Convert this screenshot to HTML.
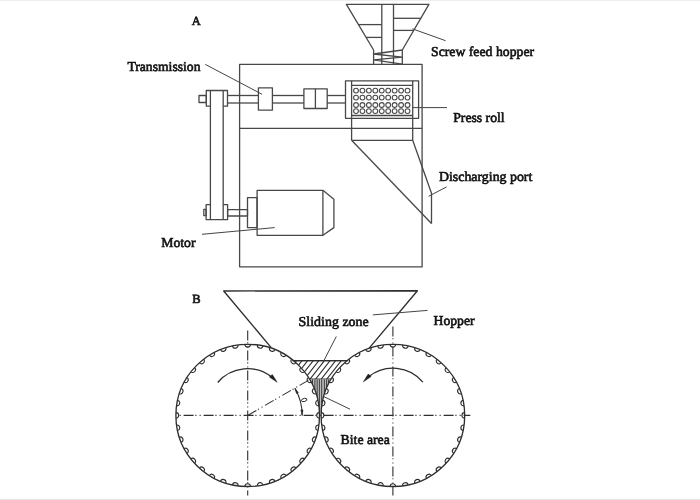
<!DOCTYPE html>
<html><head><meta charset="utf-8"><style>
html,body{margin:0;padding:0;background:#fff;}
body{width:700px;height:500px;overflow:hidden;position:relative;}
svg{position:absolute;left:0;top:0;}
text{font-family:"Liberation Serif",serif;font-weight:normal;fill:#111;stroke:#111;stroke-width:0.6px;text-rendering:geometricPrecision;}
</style></head><body>
<svg style="filter:grayscale(1)" width="700" height="500" viewBox="0 0 700 500">
<rect x="0" y="0" width="700" height="500" fill="#fff"/>
<rect x="0" y="0" width="700" height="1" fill="#eeeeee"/>
<rect x="0" y="499" width="700" height="1" fill="#e4e4e4"/>
<g fill="none" stroke="#484848" stroke-width="1.3" stroke-linejoin="round">
<path d="M373.60 50.00 L346.40 4.30 L428.90 4.30 L402.30 50.00" />
<line x1="373.6" y1="50" x2="373.6" y2="64.3" />
<line x1="402.3" y1="50" x2="402.3" y2="64.3" />
<line x1="381.8" y1="4.3" x2="381.8" y2="64.3" />
<line x1="393.5" y1="4.3" x2="393.5" y2="64.3" />
<line x1="358.5" y1="24.6" x2="381.8" y2="24.6" />
<line x1="366.1" y1="37.4" x2="381.8" y2="37.4" />
<line x1="393.5" y1="18.3" x2="420.7" y2="18.3" />
<line x1="393.5" y1="30.4" x2="413.6" y2="30.4" />
<path d="M402.30 50.00 L373.60 54.00 L402.30 57.10 L373.60 59.90 L402.30 64.10" />
<rect x="239.6" y="64.3" width="182.50" height="202.50" />
<line x1="239.6" y1="128.3" x2="422.1" y2="128.3" />
<line x1="210.4" y1="90.5" x2="210.4" y2="219.6" />
<line x1="223.2" y1="90.5" x2="223.2" y2="219.6" />
<path d="M210.40 106.20 L206.30 106.20 L206.30 90.50 L227.50 90.50 L227.50 106.20 L223.20 106.20" />
<rect x="199" y="95.5" width="7.30" height="7.00" />
<path d="M210.40 204.60 L206.10 204.60 L206.10 219.60 L227.60 219.60 L227.60 204.60 L223.20 204.60" />
<rect x="203.8" y="209.4" width="2.30" height="6.20" />
<line x1="227.5" y1="95.5" x2="258.4" y2="95.5" />
<line x1="272.4" y1="95.5" x2="303.9" y2="95.5" />
<line x1="327.2" y1="95.5" x2="345.5" y2="95.5" />
<line x1="227.5" y1="103.0" x2="258.4" y2="103.0" />
<line x1="272.4" y1="103.0" x2="303.9" y2="103.0" />
<line x1="327.2" y1="103.0" x2="345.5" y2="103.0" />
<rect x="258.4" y="87.9" width="14.00" height="22.20" />
<rect x="303.9" y="88.8" width="23.30" height="19.70" />
<line x1="315.4" y1="88.8" x2="315.4" y2="108.5" />
<rect x="227.6" y="209.6" width="19.90" height="6.40" />
<rect x="247.5" y="197.6" width="9.60" height="30.00" />
<rect x="257.1" y="190.3" width="65.80" height="45.00" />
<path d="M322.90 190.30 L333.90 199.30 L333.90 227.60 L322.90 235.30" />
<rect x="345.5" y="80.8" width="73.10" height="37.50" />
<line x1="351.6" y1="80.8" x2="351.6" y2="140.3" />
<line x1="412.7" y1="80.8" x2="412.7" y2="140.3" />
<line x1="351.6" y1="85.3" x2="412.7" y2="85.3" />
<line x1="351.6" y1="115.5" x2="412.7" y2="115.5" />
<circle cx="356.00" cy="90.6" r="2.4" stroke-width="1.1"/>
<circle cx="356.00" cy="97.6" r="2.4" stroke-width="1.1"/>
<circle cx="356.00" cy="105.0" r="2.4" stroke-width="1.1"/>
<circle cx="356.00" cy="111.1" r="2.4" stroke-width="1.1"/>
<circle cx="362.44" cy="90.6" r="2.4" stroke-width="1.1"/>
<circle cx="362.44" cy="97.6" r="2.4" stroke-width="1.1"/>
<circle cx="362.44" cy="105.0" r="2.4" stroke-width="1.1"/>
<circle cx="362.44" cy="111.1" r="2.4" stroke-width="1.1"/>
<circle cx="368.88" cy="90.6" r="2.4" stroke-width="1.1"/>
<circle cx="368.88" cy="97.6" r="2.4" stroke-width="1.1"/>
<circle cx="368.88" cy="105.0" r="2.4" stroke-width="1.1"/>
<circle cx="368.88" cy="111.1" r="2.4" stroke-width="1.1"/>
<circle cx="375.32" cy="90.6" r="2.4" stroke-width="1.1"/>
<circle cx="375.32" cy="97.6" r="2.4" stroke-width="1.1"/>
<circle cx="375.32" cy="105.0" r="2.4" stroke-width="1.1"/>
<circle cx="375.32" cy="111.1" r="2.4" stroke-width="1.1"/>
<circle cx="381.76" cy="90.6" r="2.4" stroke-width="1.1"/>
<circle cx="381.76" cy="97.6" r="2.4" stroke-width="1.1"/>
<circle cx="381.76" cy="105.0" r="2.4" stroke-width="1.1"/>
<circle cx="381.76" cy="111.1" r="2.4" stroke-width="1.1"/>
<circle cx="388.20" cy="90.6" r="2.4" stroke-width="1.1"/>
<circle cx="388.20" cy="97.6" r="2.4" stroke-width="1.1"/>
<circle cx="388.20" cy="105.0" r="2.4" stroke-width="1.1"/>
<circle cx="388.20" cy="111.1" r="2.4" stroke-width="1.1"/>
<circle cx="394.64" cy="90.6" r="2.4" stroke-width="1.1"/>
<circle cx="394.64" cy="97.6" r="2.4" stroke-width="1.1"/>
<circle cx="394.64" cy="105.0" r="2.4" stroke-width="1.1"/>
<circle cx="394.64" cy="111.1" r="2.4" stroke-width="1.1"/>
<circle cx="401.08" cy="90.6" r="2.4" stroke-width="1.1"/>
<circle cx="401.08" cy="97.6" r="2.4" stroke-width="1.1"/>
<circle cx="401.08" cy="105.0" r="2.4" stroke-width="1.1"/>
<circle cx="401.08" cy="111.1" r="2.4" stroke-width="1.1"/>
<circle cx="407.52" cy="90.6" r="2.4" stroke-width="1.1"/>
<circle cx="407.52" cy="97.6" r="2.4" stroke-width="1.1"/>
<circle cx="407.52" cy="105.0" r="2.4" stroke-width="1.1"/>
<circle cx="407.52" cy="111.1" r="2.4" stroke-width="1.1"/>
<line x1="351.6" y1="140.3" x2="412.7" y2="140.3" />
<line x1="351.6" y1="140.3" x2="431.5" y2="223.5" />
<path d="M412.70 140.30 L431.50 193.20 L431.50 223.50" />
<line x1="412.4" y1="28.8" x2="445.6" y2="40.7" stroke="#444" stroke-width="1"/>
<line x1="205.3" y1="64.4" x2="262.1" y2="94.3" stroke="#444" stroke-width="1"/>
<line x1="412.7" y1="107.6" x2="447" y2="107.6" stroke="#444" stroke-width="1"/>
<line x1="428.6" y1="196.3" x2="446.6" y2="186.9" stroke="#444" stroke-width="1"/>
<line x1="202" y1="234.3" x2="274.7" y2="227.6" stroke="#444" stroke-width="1"/>
</g><g fill="none" stroke="#2e2e2e" stroke-width="1.35" stroke-linejoin="round">
<path d="M271.20 347.60 L223.70 291.00 L417.40 290.70 L368.80 348.60" />
<clipPath id="sz"><path d="M293.45 360.60 L295.63 362.46 L297.64 364.32 L299.51 366.18 L301.25 368.04 L302.87 369.90 L304.38 371.76 L305.80 373.62 L307.11 375.48 L308.35 377.34 L309.50 379.20 L331.10 379.20 L332.25 377.34 L333.49 375.48 L334.80 373.62 L336.22 371.76 L337.73 369.90 L339.35 368.04 L341.09 366.18 L342.96 364.32 L344.97 362.46 L347.15 360.60 Z"/></clipPath>
<path d="M270.84 357.6 L251.62 382.2 M276.44 357.6 L257.22 382.2 M282.04 357.6 L262.82 382.2 M287.64 357.6 L268.42 382.2 M293.24 357.6 L274.02 382.2 M298.84 357.6 L279.62 382.2 M304.44 357.6 L285.22 382.2 M310.04 357.6 L290.82 382.2 M315.64 357.6 L296.42 382.2 M321.24 357.6 L302.02 382.2 M326.84 357.6 L307.62 382.2 M332.44 357.6 L313.22 382.2 M338.04 357.6 L318.82 382.2 M343.64 357.6 L324.42 382.2 M349.24 357.6 L330.02 382.2 M354.84 357.6 L335.62 382.2 M360.44 357.6 L341.22 382.2 M366.04 357.6 L346.82 382.2 M371.64 357.6 L352.42 382.2 M377.24 357.6 L358.02 382.2 " clip-path="url(#sz)" stroke-width="1.1"/>
<line x1="292.4468832481099" y1="360.6" x2="348.1531167518901" y2="360.6" />
<line x1="309.497003650439" y1="379.2" x2="331.10299634956095" y2="379.2" />
<path d="M309.50 379.20 L311.09 382.02 L312.53 384.83 L313.81 387.65 L314.94 390.47 L315.94 393.28 L316.80 396.10 L317.54 398.92 L318.16 401.73 L318.66 404.55 L319.04 407.37 L319.31 410.18 L319.46 413.00 L321.14 413.00 L321.29 410.18 L321.56 407.37 L321.94 404.55 L322.44 401.73 L323.06 398.92 L323.80 396.10 L324.66 393.28 L325.66 390.47 L326.79 387.65 L328.07 384.83 L329.51 382.02 L331.10 379.20 Z" fill="#bdbdbd" stroke="none"/>
<clipPath id="ba"><path d="M309.50 379.20 L311.09 382.02 L312.53 384.83 L313.81 387.65 L314.94 390.47 L315.94 393.28 L316.80 396.10 L317.54 398.92 L318.16 401.73 L318.66 404.55 L319.04 407.37 L319.31 410.18 L319.46 413.00 L321.14 413.00 L321.29 410.18 L321.56 407.37 L321.94 404.55 L322.44 401.73 L323.06 398.92 L323.80 396.10 L324.66 393.28 L325.66 390.47 L326.79 387.65 L328.07 384.83 L329.51 382.02 L331.10 379.20 Z"/></clipPath>
<path d="M312.5 379.2 L312.5 413 M314.9 379.2 L314.9 413 M317.2 379.2 L317.2 413 M319.4 379.2 L319.4 413 M321.7 379.2 L321.7 413 M324.4 379.2 L324.4 413 M326.6 379.2 L326.6 413 M328.6 379.2 L328.6 413 " clip-path="url(#ba)" stroke-width="0.9"/>
<path d="M319.50 412.60 A2.8 2.8 0 0 0 319.50 418.20 M318.90 424.99 A2.8 2.8 0 0 0 317.92 430.50 M316.13 437.09 A2.8 2.8 0 0 0 314.21 442.35 M311.28 448.53 A2.8 2.8 0 0 0 308.48 453.37 M304.50 458.96 A2.8 2.8 0 0 0 300.90 463.25 M296.00 468.07 A2.8 2.8 0 0 0 291.71 471.67 M286.02 475.57 A2.8 2.8 0 0 0 281.18 478.37 M274.89 481.25 A2.8 2.8 0 0 0 269.63 483.17 M262.93 484.93 A2.8 2.8 0 0 0 257.41 485.91 M250.50 486.50 A2.8 2.8 0 0 0 244.90 486.50 M237.99 485.91 A2.8 2.8 0 0 0 232.47 484.93 M225.77 483.17 A2.8 2.8 0 0 0 220.51 481.25 M214.22 478.37 A2.8 2.8 0 0 0 209.38 475.57 M203.69 471.67 A2.8 2.8 0 0 0 199.40 468.07 M194.50 463.25 A2.8 2.8 0 0 0 190.90 458.96 M186.92 453.37 A2.8 2.8 0 0 0 184.12 448.53 M181.19 442.35 A2.8 2.8 0 0 0 179.27 437.09 M177.48 430.50 A2.8 2.8 0 0 0 176.50 424.99 M175.90 418.20 A2.8 2.8 0 0 0 175.90 412.60 M176.50 405.81 A2.8 2.8 0 0 0 177.48 400.30 M179.27 393.71 A2.8 2.8 0 0 0 181.19 388.45 M184.12 382.27 A2.8 2.8 0 0 0 186.92 377.43 M190.90 371.84 A2.8 2.8 0 0 0 194.50 367.55 M199.40 362.73 A2.8 2.8 0 0 0 203.69 359.13 M209.38 355.23 A2.8 2.8 0 0 0 214.22 352.43 M220.51 349.55 A2.8 2.8 0 0 0 225.77 347.63 M232.47 345.87 A2.8 2.8 0 0 0 237.99 344.89 M244.90 344.30 A2.8 2.8 0 0 0 250.50 344.30 M257.41 344.89 A2.8 2.8 0 0 0 262.93 345.87 M269.63 347.63 A2.8 2.8 0 0 0 274.89 349.55 M281.18 352.43 A2.8 2.8 0 0 0 286.02 355.23 M291.71 359.13 A2.8 2.8 0 0 0 296.00 362.73 M300.90 367.55 A2.8 2.8 0 0 0 304.50 371.84 M308.48 377.43 A2.8 2.8 0 0 0 311.28 382.27 M314.21 388.45 A2.8 2.8 0 0 0 316.13 393.71 M317.92 400.30 A2.8 2.8 0 0 0 318.90 405.81 " stroke-width="1.1" fill="#fff"/>
<ellipse cx="247.7" cy="415.4" rx="71.8" ry="71.1"/>
<path d="M464.70 412.60 A2.8 2.8 0 0 0 464.70 418.20 M464.10 424.99 A2.8 2.8 0 0 0 463.12 430.50 M461.33 437.09 A2.8 2.8 0 0 0 459.41 442.35 M456.48 448.53 A2.8 2.8 0 0 0 453.68 453.37 M449.70 458.96 A2.8 2.8 0 0 0 446.10 463.25 M441.20 468.07 A2.8 2.8 0 0 0 436.91 471.67 M431.22 475.57 A2.8 2.8 0 0 0 426.38 478.37 M420.09 481.25 A2.8 2.8 0 0 0 414.83 483.17 M408.13 484.93 A2.8 2.8 0 0 0 402.61 485.91 M395.70 486.50 A2.8 2.8 0 0 0 390.10 486.50 M383.19 485.91 A2.8 2.8 0 0 0 377.67 484.93 M370.97 483.17 A2.8 2.8 0 0 0 365.71 481.25 M359.42 478.37 A2.8 2.8 0 0 0 354.58 475.57 M348.89 471.67 A2.8 2.8 0 0 0 344.60 468.07 M339.70 463.25 A2.8 2.8 0 0 0 336.10 458.96 M332.12 453.37 A2.8 2.8 0 0 0 329.32 448.53 M326.39 442.35 A2.8 2.8 0 0 0 324.47 437.09 M322.68 430.50 A2.8 2.8 0 0 0 321.70 424.99 M321.10 418.20 A2.8 2.8 0 0 0 321.10 412.60 M321.70 405.81 A2.8 2.8 0 0 0 322.68 400.30 M324.47 393.71 A2.8 2.8 0 0 0 326.39 388.45 M329.32 382.27 A2.8 2.8 0 0 0 332.12 377.43 M336.10 371.84 A2.8 2.8 0 0 0 339.70 367.55 M344.60 362.73 A2.8 2.8 0 0 0 348.89 359.13 M354.58 355.23 A2.8 2.8 0 0 0 359.42 352.43 M365.71 349.55 A2.8 2.8 0 0 0 370.97 347.63 M377.67 345.87 A2.8 2.8 0 0 0 383.19 344.89 M390.10 344.30 A2.8 2.8 0 0 0 395.70 344.30 M402.61 344.89 A2.8 2.8 0 0 0 408.13 345.87 M414.83 347.63 A2.8 2.8 0 0 0 420.09 349.55 M426.38 352.43 A2.8 2.8 0 0 0 431.22 355.23 M436.91 359.13 A2.8 2.8 0 0 0 441.20 362.73 M446.10 367.55 A2.8 2.8 0 0 0 449.70 371.84 M453.68 377.43 A2.8 2.8 0 0 0 456.48 382.27 M459.41 388.45 A2.8 2.8 0 0 0 461.33 393.71 M463.12 400.30 A2.8 2.8 0 0 0 464.10 405.81 " stroke-width="1.1" fill="#fff"/>
<ellipse cx="392.9" cy="415.4" rx="71.8" ry="71.1"/>
<line x1="292.4468832481099" y1="360.6" x2="348.1531167518901" y2="360.6" />
<line x1="177" y1="415.4" x2="470.3" y2="415.4" stroke-dasharray="10 1.8 1.1 3.1 1.1 2.9" stroke-width="1.1" stroke-dashoffset="13.4"/>
<line x1="247.7" y1="328" x2="247.7" y2="495.6" stroke-dasharray="10 1.8 1.1 3.1 1.1 2.9" stroke-width="1.1" stroke-dashoffset="17.5"/>
<line x1="392.9" y1="326.4" x2="392.9" y2="495.6" stroke-dasharray="10 1.8 1.1 3.1 1.1 2.9" stroke-width="1.1"/>
<line x1="247.7" y1="415.4" x2="309" y2="380" stroke-dasharray="10 1.8 1.1 3.1 1.1 2.9" stroke-width="1.1"/>
<path d="M217.69 382.44 A39.2 39.2 0 0 1 272.07 377.35"/>
<path d="M272.31 374.55 L277.13 382.23 L269.44 377.04 Z" fill="#1c1c1c" stroke-width="0.6"/>
<path d="M422.88 382.13 A39.0 39.0 0 0 0 368.49 376.87"/>
<path d="M371.11 376.55 L363.43 381.77 L368.23 374.07 Z" fill="#1c1c1c" stroke-width="0.6"/>
<path d="M294.90 388.15 A54.5 54.5 0 0 1 302.20 415.4" stroke-width="1.1"/>
<path d="M296.42 393.54 L294.90 388.15 L298.38 392.54 Z" fill="#222" stroke-width="0.5"/>
<path d="M303.02 409.85 L302.20 415.40 L300.82 409.96 Z" fill="#222" stroke-width="0.5"/>
<path d="M300.6 401.6 Q301.5 398.6 304.5 398.3 Q307.6 398.2 306.8 400.2 Q305.5 402 301.8 401.6" stroke-width="1"/>
<line x1="372.9" y1="314.9" x2="427.5" y2="310.4" stroke="#444" stroke-width="1"/>
<line x1="336.3" y1="336.5" x2="322" y2="364.3" stroke="#444" stroke-width="1"/>
<line x1="324" y1="396.7" x2="350" y2="409.2" stroke="#444" stroke-width="1"/>
</g>
<g>
<text x="191.7" y="25.2" font-size="12.5">A</text>
<text x="127.40" y="70.7" font-size="13.6" textLength="73.08" lengthAdjust="spacingAndGlyphs">Transmission</text>
<text x="430.99" y="56.4" font-size="13.6" textLength="103.12" lengthAdjust="spacingAndGlyphs">Screw feed hopper</text>
<text x="453.20" y="121.7" font-size="13.6" textLength="51.48" lengthAdjust="spacingAndGlyphs">Press roll</text>
<text x="439.01" y="180.6" font-size="13.6" textLength="93.29" lengthAdjust="spacingAndGlyphs">Discharging port</text>
<text x="161.20" y="246.9" font-size="13.6" textLength="34.28" lengthAdjust="spacingAndGlyphs">Motor</text>
<text x="192.3" y="302.8" font-size="12.5">B</text>
<text x="298.58" y="326.2" font-size="13.6" textLength="70.15" lengthAdjust="spacingAndGlyphs">Sliding zone</text>
<text x="433.60" y="324.5" font-size="13.6" textLength="40.98" lengthAdjust="spacingAndGlyphs">Hopper</text>
<text x="340.60" y="443.7" font-size="13.6" textLength="49.18" lengthAdjust="spacingAndGlyphs">Bite area</text>
</g>
</svg>
</body></html>
